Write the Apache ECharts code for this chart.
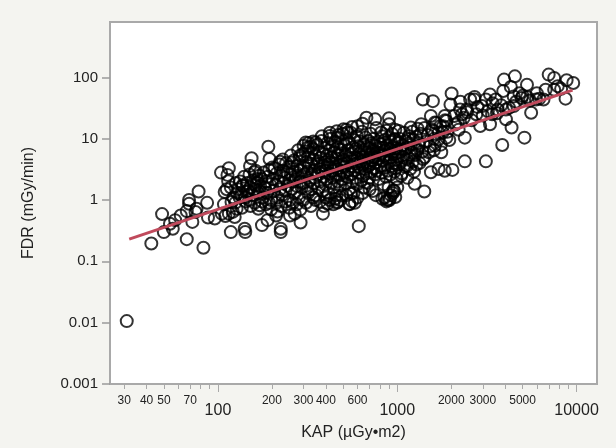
<!DOCTYPE html>
<html>
<head>
<meta charset="utf-8">
<script src="https://cdn.jsdelivr.net/npm/echarts@6/dist/echarts.min.js"></script>
<style>
html, body { margin: 0; padding: 0; background: #f4f4f0; }
#chart { width: 616px; height: 448px; }
</style>
</head>
<body>
<div id="chart"></div>
<script>
// KAP (x) vs FDR (y)
var kapFdr = [
	[31, 0.0106], [42.5, 0.196], [48.8, 0.59], [49.9, 0.30], [54, 0.41], [57.7, 0.47], [67, 0.23], [83, 0.167],
	[67, 0.66], [69, 1.0], [69, 0.87], [78, 1.38], [72, 0.44], [75, 0.64], [87, 0.9], [88, 0.52], [96, 0.5],
	[76, 0.72], [62, 0.56], [56, 0.34],
	[104, 2.8], [115, 3.3], [113, 2.57], [114, 2.03], [109, 1.35], [118, 0.30], [121, 0.64], [124, 0.53],
	[127, 0.72], [119, 0.93], [132, 1.1], [141, 0.34], [142, 0.30], [137, 1.73], [144, 1.35], [149, 1.0],
	[154, 4.8], [151, 3.6], [160, 2.84], [166, 2.2], [162, 1.73], [172, 1.35], [171, 0.82], [176, 0.39],
	[189, 0.47], [191, 7.4], [194, 4.67], [201, 3.4], [211, 0.56], [224, 0.30], [224, 0.34], [252, 0.56],
	[289, 0.43], [222, 4.2], [259, 4.1], [287, 5.3], [309, 8.7], [317, 7.2], [351, 8.7], [385, 0.60],
	[409, 0.87], [465, 0.93], [492, 1.19], [610, 0.375], [551, 1.27], [541, 0.87], [420, 11.1], [502, 14.3],
	[528, 12.6], [465, 10.4], [673, 22], [753, 20.7], [900, 21.5], [900, 17.2], [813, 12.6], [826, 1.05],
	[900, 0.99], [975, 1.12], [950, 1.43], [1250, 1.84], [1415, 1.38], [1390, 43.6], [1580, 41], [1540, 23.5],
	[1620, 18.3], [1540, 2.84], [1700, 3.2], [1840, 3.0], [2030, 3.1], [2010, 54.6], [1980, 36], [2080, 23.4],
	[1880, 10.4], [2380, 10.4], [2380, 4.27], [2300, 25], [2550, 43.6], [2760, 25], [2900, 16.1], [3120, 4.27],
	[3120, 43.6], [3290, 52.5], [3290, 17.2], [3850, 7.9], [4040, 20.7], [4340, 15.2], [3940, 92], [4530, 104],
	[4460, 49], [5290, 76], [5120, 10.4], [5580, 26.5], [4940, 46], [6540, 43.6], [6990, 111], [7500, 98],
	[7850, 72], [8680, 45], [9580, 81], [7500, 63], [3540, 43.6], [3630, 30], [4040, 30], [4460, 34],
	[2970, 34], [2690, 43.6], [2240, 30], [2180, 18.3], [1880, 19.5], [1740, 16.1], [1580, 13.4], [1700, 9.8],
	[1620, 7.7], [1500, 6], [1390, 4.67], [1320, 7.7], [1360, 17.2], [1190, 15.2], [1160, 9.8], [1070, 6.8],
	[1130, 3.6], [1050, 2.5], [1020, 13.4], [975, 9.8], [6720, 63], [5940, 43.6], [3380, 25], [2440, 30],
	[1840, 23.5], [1790, 12.6],
	[130, 1.5], [133, 2.0], [135, 1.2], [138, 1.7], [140, 2.4], [142, 1.1], [145, 1.9], [147, 1.4], [150, 2.6],
	[152, 1.6], [155, 1.2], [157, 2.1], [160, 1.5], [162, 3.0], [165, 1.9], [168, 1.3], [170, 2.5], [172, 1.7],
	[175, 2.2], [178, 1.1], [180, 2.8], [182, 1.6], [185, 2.0], [188, 1.3], [190, 2.4], [193, 3.1], [195, 1.8],
	[198, 1.0], [126, 1.9], [128, 1.3], [118, 1.6], [122, 1.1], [112, 1.5], [108, 0.85], [105, 0.6], [110, 0.55],
	[115, 0.6], [125, 0.9], [136, 0.75], [143, 0.95], [152, 0.8], [160, 0.9], [168, 0.72], [176, 0.95],
	[185, 0.85], [193, 0.9], [198, 0.7],
	[202, 2.2], [205, 1.4], [207, 3.3], [210, 1.8], [212, 2.7], [215, 1.1], [218, 2.0], [220, 3.8], [222, 1.5],
	[225, 2.5], [228, 1.2], [230, 3.0], [232, 1.9], [235, 2.3], [238, 1.4], [240, 4.0], [242, 2.8], [245, 1.7],
	[248, 3.5], [250, 2.1], [252, 1.0], [255, 2.6], [258, 1.5], [260, 3.2], [263, 2.0], [265, 4.4], [268, 1.3],
	[270, 2.9], [272, 2.2], [275, 1.7], [278, 3.6], [280, 2.5], [283, 1.1], [285, 4.8], [288, 2.0], [290, 3.0],
	[293, 1.6], [295, 2.4], [298, 5.6], [300, 1.9], [212, 0.9], [225, 0.8], [238, 0.95], [250, 0.75], [262, 0.9],
	[275, 0.85], [288, 0.7], [298, 1.0], [215, 0.65], [268, 0.6],
	[302, 3.4], [305, 2.6], [307, 6.2], [310, 1.7], [312, 4.2], [315, 2.9], [318, 1.3], [320, 5.0], [322, 3.6],
	[325, 2.1], [328, 7.4], [330, 1.5], [332, 3.9], [335, 2.7], [338, 6.8], [340, 1.9], [342, 4.6], [345, 3.1],
	[348, 2.3], [350, 5.4], [352, 1.2], [355, 3.8], [358, 8.0], [360, 2.6], [363, 4.3], [365, 1.6], [368, 6.0],
	[370, 3.2], [372, 2.0], [375, 4.9], [378, 9.2], [380, 2.9], [383, 1.4], [385, 5.7], [388, 3.6], [390, 2.4],
	[393, 7.0], [395, 4.1], [398, 1.8], [400, 3.0], [403, 5.2], [405, 2.2], [408, 8.5], [410, 3.8], [413, 1.3],
	[415, 4.5], [418, 6.4], [420, 2.7], [423, 3.4], [425, 10.0], [428, 1.9], [430, 5.0], [433, 3.0], [435, 7.6],
	[438, 2.3], [440, 4.0], [443, 1.6], [445, 6.0], [448, 3.5], [450, 9.0], [453, 2.6], [455, 4.8], [458, 1.2],
	[460, 3.2], [463, 7.2], [465, 2.0], [468, 5.5], [470, 11.5], [472, 3.7], [475, 2.5], [478, 6.6], [480, 1.7],
	[483, 4.2], [485, 8.2], [488, 3.0], [490, 5.8], [493, 2.2], [495, 12.0], [498, 3.9], [310, 0.9], [330, 0.8],
	[350, 1.0], [370, 0.95], [390, 0.8], [420, 1.0], [440, 0.85], [460, 0.9], [480, 1.0], [340, 1.1], [400, 1.1],
	[450, 1.05],
	[502, 4.6], [505, 2.8], [508, 7.8], [510, 3.5], [515, 1.9], [518, 5.3], [520, 9.8], [525, 2.4], [528, 4.0],
	[530, 6.5], [535, 3.1], [538, 1.5], [540, 8.6], [545, 4.8], [548, 2.6], [550, 12.5], [555, 3.6], [558, 5.8],
	[560, 2.0], [565, 7.2], [568, 4.3], [570, 1.3], [575, 3.0], [578, 9.5], [580, 5.0], [585, 2.3], [588, 6.8],
	[590, 3.9], [595, 11.0], [598, 1.8], [600, 4.7], [605, 7.5], [610, 2.8], [612, 5.6], [615, 3.4], [620, 9.0],
	[625, 4.2], [628, 2.1], [630, 6.2], [635, 13.0], [638, 3.7], [640, 5.1], [645, 2.5], [648, 8.0], [650, 4.5],
	[655, 1.6], [658, 6.6], [660, 3.2], [665, 10.5], [668, 5.4], [670, 2.7], [675, 7.4], [678, 4.0], [680, 1.9],
	[685, 6.0], [688, 3.5], [690, 9.2], [695, 4.9], [698, 2.3], [700, 7.0], [705, 3.8], [710, 12.0], [715, 5.7],
	[718, 2.9], [720, 8.4], [725, 4.4], [730, 1.4], [735, 6.4], [738, 3.3], [740, 10.0], [745, 5.0], [750, 2.6],
	[755, 7.6], [760, 4.1], [765, 15.0], [770, 3.0], [775, 6.0], [780, 9.0], [785, 4.7], [790, 2.2], [795, 7.2],
	[800, 5.3], [520, 1.2], [560, 0.95], [600, 1.1], [640, 1.3], [700, 1.5], [760, 1.2], [540, 0.85], [580, 0.9],
	[805, 3.6], [810, 8.2], [815, 5.8], [820, 2.8], [825, 11.0], [830, 4.5], [835, 7.0], [840, 1.8], [845, 5.2],
	[850, 9.5], [855, 3.4], [860, 6.5], [865, 2.4], [870, 13.5], [875, 4.8], [880, 7.8], [885, 3.0], [890, 5.5],
	[895, 1.6], [900, 10.5], [905, 4.2], [910, 6.8], [915, 2.6], [920, 8.8], [925, 5.0], [930, 3.6], [935, 12.0],
	[940, 6.0], [945, 1.3], [950, 7.4], [955, 4.0], [960, 9.8], [965, 2.9], [970, 5.6], [975, 14.0], [980, 3.3],
	[985, 7.0], [990, 4.6], [995, 2.2], [1000, 8.4], [1010, 5.2], [1020, 3.8], [1030, 10.0], [1040, 6.2],
	[1050, 4.4], [1060, 2.7], [1070, 7.8], [1080, 5.0], [1090, 12.5], [1100, 3.5], [1110, 6.8], [1120, 9.0],
	[1130, 4.6], [1140, 2.3], [1150, 7.2], [1160, 11.0], [1170, 5.5], [1180, 3.2], [1190, 8.0], [1200, 6.0],
	[1210, 13.0], [1220, 4.2], [1230, 9.5], [1240, 2.9], [1250, 7.0], [1260, 5.4], [1270, 10.8], [1280, 3.8],
	[1290, 6.5], [1300, 14.5], [850, 1.1], [880, 1.0], [920, 1.2], [960, 1.4], [1000, 1.6], [870, 0.95], [910, 1.05],
	[1320, 8.5], [1350, 12], [1380, 6.2], [1420, 15], [1450, 9.0], [1480, 11.5], [1520, 7.5], [1560, 14],
	[1600, 10], [1650, 18], [1700, 12.5], [1750, 8.0], [1800, 16], [1850, 20], [1900, 13], [1950, 9.5],
	[1330, 4.0], [1420, 5.0], [1600, 6.5], [1760, 6.0],
	[2100, 17], [2200, 14], [2350, 22], [2450, 27], [2600, 20], [2800, 33], [3000, 24], [3200, 28], [3400, 38],
	[3600, 26], [3800, 35], [4200, 32], [4600, 40], [5000, 50], [5500, 42], [6000, 55], [2250, 40], [2700, 48],
	[3900, 60], [4300, 70], [4800, 55], [5300, 48], [6200, 45], [8200, 65], [8800, 90],
	[230, 4.6], [255, 5.3], [280, 6.5], [300, 7.7], [320, 8.5], [340, 9.0], [380, 11.0], [420, 12.5], [460, 13.2],
	[520, 14.0], [560, 15.5], [600, 16.0], [640, 17.5]
];

// fitted line end points
var fitLine = [[32, 0.23], [9500, 62]];

var xMinorTicks = [30, 40, 50, 60, 70, 80, 90, 200, 300, 400, 500, 600, 700, 800, 900, 2000, 3000, 4000, 5000, 6000, 7000, 8000, 9000];
var xSmallLabels = [30, 40, 50, 70, 200, 300, 400, 600, 2000, 3000, 5000];
var xBigLabels = [100, 1000, 10000];
var yTicks = [0.001, 0.01, 0.1, 1, 10, 100];
var yTickLabels = ['0.001', '0.01', '0.1', '1', '10', '100'];

var font = 'Liberation Sans';
var axisGray = '#a9a9a9';

function nearestLabel(vals, labels, v) {
	var best = 0;
	for (var i = 1; i < vals.length; i++) {
		if (Math.abs(Math.log(vals[i] / v)) < Math.abs(Math.log(vals[best] / v))) best = i;
	}
	return labels[best];
}
function roundNum(v) {
	return String(Math.round(v));
}

var myChart = echarts.init(document.getElementById('chart'));
var option = {
	backgroundColor: '#f4f4f0',
	animation: false,
	grid: {
		left: 110,
		right: 19,
		top: 22,
		bottom: 64,
		show: true,
		backgroundColor: '#fff',
		borderColor: axisGray,
		borderWidth: 2
	},
	xAxis: [{
		type: 'log',
		min: 25,
		max: 13000,
		name: 'KAP (µGy•m2)',
		nameLocation: 'middle',
		nameGap: 41,
		nameTextStyle: { fontFamily: font, fontSize: 16, color: '#222' },
		axisLine: { lineStyle: { color: axisGray, width: 2 } },
		splitLine: { show: false },
		minorTick: { show: false },
		axisTick: {
			show: true,
			length: 5,
			customValues: xMinorTicks,
			lineStyle: { color: axisGray, width: 1 }
		},
		axisLabel: {
			customValues: xSmallLabels,
			margin: 11,
			fontFamily: font,
			fontSize: 12,
			color: '#222',
			formatter: roundNum
		}
	}, {
		type: 'log',
		min: 25,
		max: 13000,
		position: 'bottom',
		axisLine: { show: false },
		splitLine: { show: false },
		axisTick: {
			show: true,
			length: 8,
			customValues: xBigLabels,
			lineStyle: { color: axisGray, width: 1 }
		},
		axisLabel: {
			customValues: xBigLabels,
			margin: 19,
			fontFamily: font,
			fontSize: 16,
			color: '#222',
			formatter: roundNum
		}
	}],
	yAxis: {
		type: 'log',
		min: 0.001,
		max: 800,
		name: 'FDR (mGy/min)',
		nameLocation: 'middle',
		nameGap: 73,
		nameTextStyle: { fontFamily: font, fontSize: 16, color: '#222' },
		axisLine: { lineStyle: { color: axisGray, width: 2 } },
		splitLine: { show: false },
		axisTick: {
			show: true,
			length: 8,
			customValues: yTicks,
			lineStyle: { color: '#999', width: 1.5 }
		},
		axisLabel: {
			customValues: yTicks,
			margin: 12,
			fontFamily: font,
			fontSize: 15,
			color: '#222',
			formatter: function(v) {
				return nearestLabel(yTicks, yTickLabels, v);
			}
		}
	},
	series: [{
		type: 'scatter',
		data: kapFdr,
		symbol: 'circle',
		symbolSize: 12,
		itemStyle: {
			color: 'rgba(0,0,0,0)',
			borderColor: '#000',
			borderWidth: 2
		}
	}, {
		type: 'line',
		data: fitLine,
		symbol: 'none',
		lineStyle: { color: '#c04a5c', width: 3 }
	}]
};
myChart.setOption(option);
</script>
</body>
</html>
